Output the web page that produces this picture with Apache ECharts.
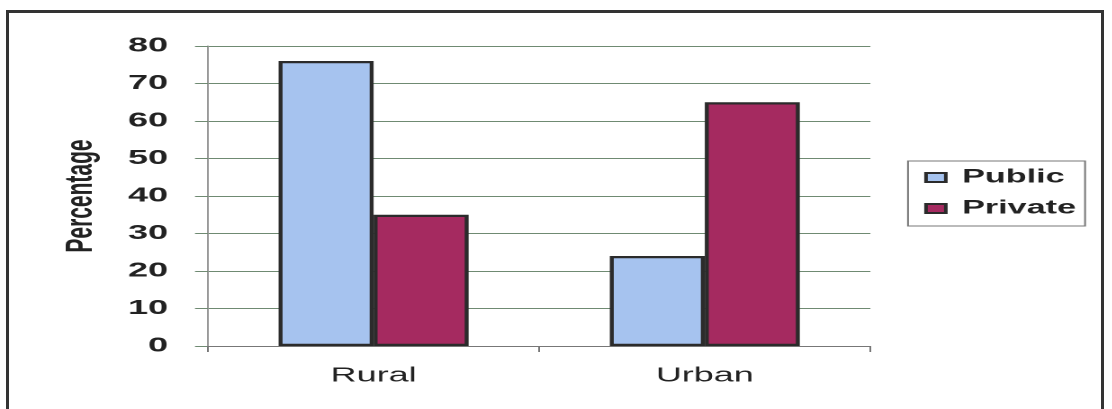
<!DOCTYPE html>
<html>
<head>
<meta charset="utf-8">
<script src="https://cdn.jsdelivr.net/npm/echarts@6/dist/echarts.min.js"></script>
<style>
  html, body { margin: 0; padding: 0; background: #fff; overflow: hidden; }
  #frame { position: absolute; left: 6px; top: 10px; width: 1098px; height: 420px; border: 3px solid #333; box-sizing: border-box; }
  #chart { position: absolute; left: 0; top: 0; height: 409px; transform-origin: 0 0; }
</style>
</head>
<body>
<div id="frame"></div>
<div id="chart"></div>
<script>
(function () {
    'use strict';
    // data
    var categories = ['Rural', 'Urban'];
    var publicValues = [76, 24];
    var privateValues = [35, 65];
    var yTicks = { min: 0, max: 80, interval: 10 };

    // the picture is stretched sideways, so draw narrow and scale it
    var S = 1.8;
    var W = 1112 / S;
    var dom = document.getElementById('chart');
    dom.style.width = W + 'px';
    dom.style.transform = 'scaleX(' + S + ')';

    var myChart = echarts.init(dom, null, { devicePixelRatio: 2 });

    var option = {
        animation: false,
        textStyle: { fontFamily: 'Liberation Sans, Arial, sans-serif' },
        grid: {
            left: 208 / S,
            right: W - 870 / S,
            top: 46,
            bottom: 63,
            outerBoundsMode: 'none'
        },
        legend: {
            orient: 'vertical',
            left: 908 / S,
            top: 161,
            padding: [7, 5, 8, 9],
            itemGap: 12,
            itemWidth: 11,
            itemHeight: 9,
            icon: 'rect',
            borderColor: '#777',
            borderWidth: 1,
            textStyle: { fontSize: 19, fontWeight: 'bold', color: '#222', padding: [0, 0, 0, 4] },
            data: ['Public', 'Private']
        },
        xAxis: {
            type: 'category',
            data: categories,
            axisLine: { lineStyle: { color: '#777', width: 1 } },
            axisTick: { show: true, length: 6, lineStyle: { color: '#777' } },
            axisLabel: { fontSize: 20, color: '#222', margin: 20 }
        },
        yAxis: {
            type: 'value',
            min: yTicks.min,
            max: yTicks.max,
            interval: yTicks.interval,
            name: 'Percentage',
            nameLocation: 'middle',
            nameGap: 60,
            nameTextStyle: { fontSize: 21, fontWeight: 'bold', color: '#222' },
            axisLine: { show: true, lineStyle: { color: '#999', width: 1 } },
            axisTick: { show: true, length: 13 / S, lineStyle: { color: '#6f8a72' } },
            axisLabel: { fontSize: 20, fontWeight: 'bold', color: '#222', margin: 40 / S },
            splitLine: { lineStyle: { color: '#6f8a72', width: 1 } }
        },
        series: [{
            name: 'Public',
            type: 'bar',
            barWidth: 95 / S,
            barGap: '0%',
            data: publicValues,
            itemStyle: { color: '#a6c3ef', borderColor: '#2b2b2b', borderWidth: 2.2 }
        }, {
            name: 'Private',
            type: 'bar',
            barWidth: 95 / S,
            data: privateValues,
            itemStyle: { color: '#a52a60', borderColor: '#2b2b2b', borderWidth: 2.2 }
        }]
    };

    myChart.setOption(option);
    window.addEventListener('resize', function () {
        myChart.resize();
    });
})();
</script>
</body>
</html>
